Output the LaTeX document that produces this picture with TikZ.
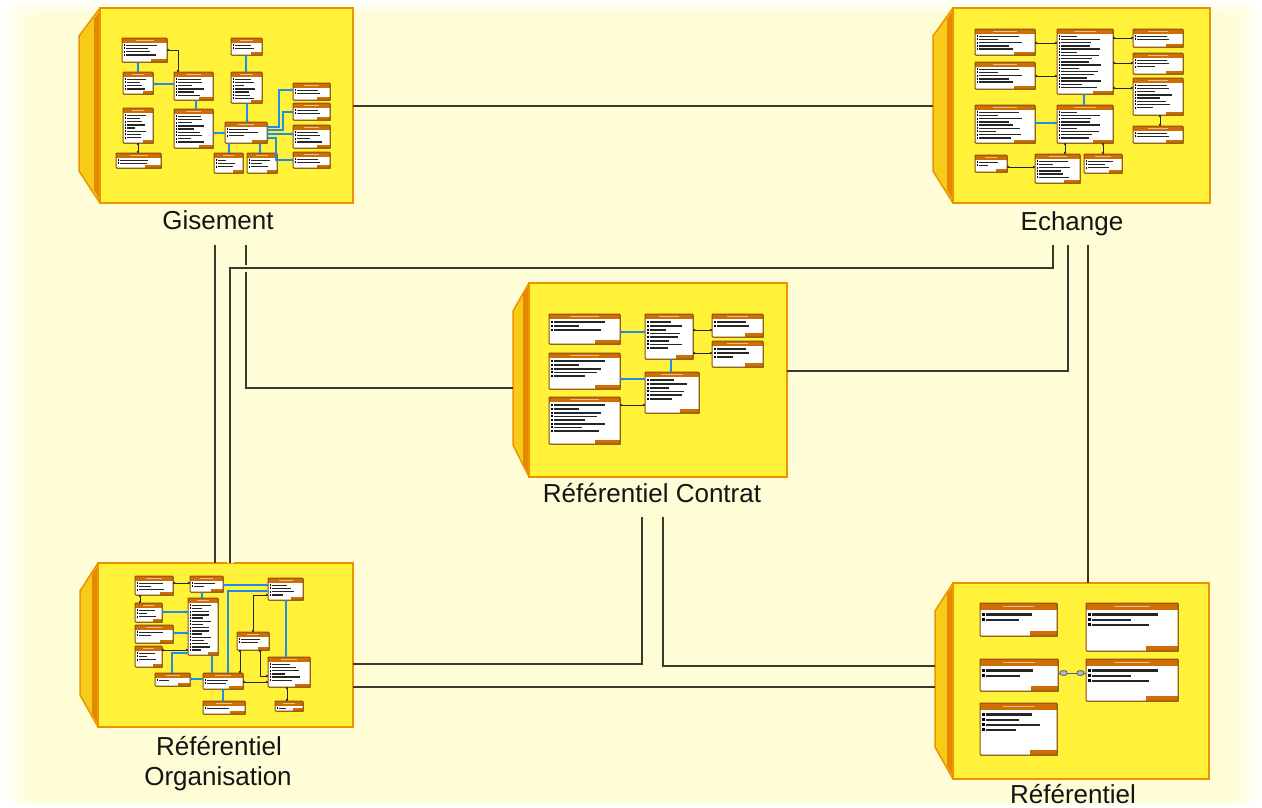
\documentclass[tikz,border=0pt]{standalone}
\usepackage{fontspec}
\setmainfont{Liberation Sans}
\usetikzlibrary{arrows.meta,shadows}

\definecolor{bgc}{RGB}{255,253,214}
\definecolor{facec}{RGB}{255,242,56}
\definecolor{edgec}{RGB}{236,148,0}
\definecolor{sidec}{RGB}{246,204,24}
\definecolor{stripec}{RGB}{228,136,0}
\definecolor{hdrc}{RGB}{206,110,4}
\definecolor{tbordc}{RGB}{140,78,6}
\definecolor{linkc}{RGB}{30,140,232}
\definecolor{connc}{RGB}{58,58,44}

\tikzset{
  conn/.style={draw=connc, line width=2pt},
  halo/.style={preaction={draw=bgc, line width=7pt}},
  pkgface/.style={fill=facec, draw=edgec, line width=2pt},
  pkgside/.style={fill=sidec, draw=edgec, line width=1.5pt, line join=round},
  pkgstripe/.style={fill=stripec},
  lbl/.style={font=\fontsize{26}{30}\selectfont, text=black!92, inner sep=0},
  tblbox/.style={fill=white, inner sep=0, outer sep=0,
    drop shadow={shadow xshift=0.9pt, shadow yshift=-0.9pt, fill=black, opacity=0.4}},
  tbord/.style={draw=tbordc, line width=1pt, rounded corners=0.8pt},
  blu/.style={draw=linkc, line width=1.2pt, {Circle[length=2.4pt]}-{Circle[length=2.4pt]}},
  blk/.style={draw=black!85, line width=1pt, {Circle[length=2.2pt]}-{Circle[length=2.2pt]}},
  refl/.style={draw=gray!70!blue, line width=1pt},
  refm/.style={fill=blue!25!gray!45, draw=black!75, line width=0.6pt, rounded corners=2pt,
    minimum width=7pt, minimum height=4.5pt, inner sep=0},
}

% table thumbnail: name, x1, y1, x2, y2, rows (0 = fill the table)
\newcommand\dbt[6]{%
  \node[tblbox, minimum width=(#4-#2)*1pt, minimum height=(#5-#3)*1pt, anchor=north west] (#1) at (#2,#3) {};
  \fill[hdrc] (#2,#3) rectangle (#4,{#3+4.5*\tsc});
  \fill[white!55!hdrc] ({(#2+#4)/2-0.2*(#4-#2)},{#3+1.6*\tsc}) rectangle ({(#2+#4)/2+0.2*(#4-#2)},{#3+2.8*\tsc});
  \ifnum#6=0\relax
    \pgfmathtruncatemacro\tbrows{max(1,(#5-#3-8.5*\tsc)/(3.2*\tsc))}%
  \else
    \def\tbrows{#6}%
  \fi
  \foreach \k in {1,...,\tbrows}{%
    \pgfmathsetmacro\rowy{#3+4.5*\tsc+(\k-0.45)*3.2*\tsc}%
    \pgfmathsetmacro\rowlen{(0.3+0.5*abs(sin(\k*71+#2*3)))*(#4-#2-6*\tsc)}%
    \fill[black] ({#2+1.5*\tsc},\rowy) rectangle ++({1.9*\tsc},{1.9*\tsc});
    \fill[black!85] ({#2+4*\tsc},{\rowy+0.25*\tsc}) rectangle ++(\rowlen,{1.5*\tsc});
  }
  \fill[hdrc] ({#4-0.35*(#4-#2)},{#5-3.2*\tsc}) rectangle (#4,#5);
  \draw[tbord] (#2,#3) rectangle (#4,#5);
}

% package: name, side left, face left, top, right, bottom
\newcommand\pkg[6]{%
  \node[inner sep=0, outer sep=0, minimum width=(#5-#2)*1pt, minimum height=(#6-#4)*1pt, anchor=north west] (#1) at (#2,#4) {};
  \filldraw[pkgside] (#3,#4) -- (#2,{#4+28}) -- (#2,{#6-32}) -- (#3,#6) -- cycle;
  \fill[pkgstripe] (#3,{#4+3}) -- ({#3-6},{#4+11}) -- ({#3-6},{#6-13}) -- (#3,{#6-3}) -- cycle;
  \filldraw[pkgface] (#3,#4) rectangle (#5,#6);
}

\begin{document}
\begin{tikzpicture}[x=1pt, y=-1pt]
\useasboundingbox (0,0) rectangle (1262,807);

% background with a soft white rim
\fill[white] (0,0) rectangle (1262,807);
\foreach \i in {1,...,24}{
  \pgfmathtruncatemacro\mixp{\i*100/24}
  \fill[bgc!\mixp!white, rounded corners=12pt] ({\i*1.3},{\i*0.6}) rectangle ({1262-\i*1.1},{807-\i*0.3});
}

% ---------- packages ----------
\pkg{gis}{79}{100}{8}{353}{203}
\pkg{ech}{933}{953}{8}{1210}{203}
\pkg{con}{513}{529}{283}{787}{477}
\pkg{org}{80}{98}{563}{353}{727}
\pkg{ref}{935}{953}{583}{1209}{779}

\node[lbl, anchor=base] (gisT) at (218,229.5) {Gisement};
\node[lbl, anchor=base] (echT) at (1072,230) {Echange};
\node[lbl, anchor=base] (conT) at (652,502) {Référentiel Contrat};
\node[lbl, anchor=base] (orgT1) at (219,755) {Référentiel};
\node[lbl, anchor=base] (orgT2) at (218,785) {Organisation};
\node[lbl, anchor=base] (refT) at (1073,803) {Référentiel};

% ---------- Gisement ----------
\def\tsc{1}
\dbt{g1}{122}{38}{167}{62}{0}
\dbt{g2}{123}{72}{153}{94}{0}
\dbt{g3}{174}{72}{213}{100}{0}
\dbt{g4}{123}{108}{153}{143}{0}
\dbt{g5}{116}{153}{161}{168}{0}
\dbt{g6}{174}{109}{213}{148}{0}
\dbt{g7}{231}{38}{262}{55}{0}
\dbt{g8}{231}{72}{262}{103}{0}
\dbt{g9}{225}{122}{267}{143}{0}
\dbt{g10}{214}{153}{243}{173}{0}
\dbt{g11}{247}{153}{277}{173}{0}
\dbt{g12}{293}{83}{330}{100}{0}
\dbt{g13}{293}{103}{330}{120}{0}
\dbt{g14}{293}{125}{330}{148}{0}
\dbt{g15}{293}{152}{330}{168}{0}
\draw[blu] (g1.south -| 138,0) -- (g2.north -| 138,0);
\draw[blu] (g2.east |- 0,84) -- (g3.west |- 0,84);
\draw[blk] (g1.east |- 0,50) -| (g3.north -| 178,0);
\draw[blu] (g3.south -| 196,0) -- (g6.north -| 196,0);
\draw[blk] (g4.south -| 138,0) -- (g5.north -| 138,0);
\draw[blu] (g7.south -| 246,0) -- (g8.north -| 246,0);
\draw[blu] (g8.south -| 247,0) -- (g9.north -| 247,0);
\draw[blu] (g6.east |- 0,133) -- (g9.west |- 0,133);
\draw[blu] (g9.south -| 229,0) -- (g10.north -| 229,0);
\draw[blu] (g9.south -| 260,0) -- (g11.north -| 260,0);
\draw[blu] (g9.east |- 0,127) -- ++(12,0) |- (g12.west |- 0,90);
\draw[blu] (g9.east |- 0,130) -- ++(16,0) |- (g13.west |- 0,112);
\draw[blu] (g9.east |- 0,134) -- (g14.west |- 0,134);
\draw[blu] (g9.east |- 0,138) -- ++(9,0) |- (g15.west |- 0,160);

% ---------- Echange ----------
\dbt{e1}{975}{29}{1035}{55}{0}
\dbt{e2}{975}{62}{1035}{89}{0}
\dbt{e3}{1057}{29}{1113}{94}{0}
\dbt{e4}{1133}{29}{1183}{47}{0}
\dbt{e5}{1133}{53}{1183}{74}{0}
\dbt{e6}{1133}{78}{1183}{115}{0}
\dbt{e7}{1133}{126}{1183}{143}{0}
\dbt{e8}{975}{105}{1035}{143}{0}
\dbt{e9}{1057}{105}{1113}{143}{0}
\dbt{e10}{975}{155}{1007}{172}{0}
\dbt{e11}{1035}{154}{1080}{183}{0}
\dbt{e12}{1084}{154}{1122}{173}{0}
\draw[blk] (e1.east |- 0,43) -- (e3.west |- 0,43);
\draw[blk] (e2.east |- 0,76) -- (e3.west |- 0,76);
\draw[blk] (e3.east |- 0,38) -- (e4.west |- 0,38);
\draw[blk] (e3.east |- 0,63) -- (e5.west |- 0,63);
\draw[blk] (e3.east |- 0,88) -- (e6.west |- 0,88);
\draw[blu] (e3.south -| 1084,0) -- (e9.north -| 1084,0);
\draw[blu] (e8.east |- 0,123) -- (e9.west |- 0,123);
\draw[blk] (e6.south -| 1160,0) -- (e7.north -| 1160,0);
\draw[blk] (e9.south -| 1065,0) -- (e11.north -| 1065,0);
\draw[blk] (e9.south -| 1103,0) -- (e12.north -| 1103,0);
\draw[blk] (e10.east |- 0,167) -- (e11.west |- 0,167);

% ---------- Référentiel Contrat ----------
\def\tsc{1.15}
\dbt{c1}{549}{314}{620}{344}{3}
\dbt{c2}{549}{353}{620}{389}{5}
\dbt{c3}{549}{397}{620}{444}{8}
\dbt{c4}{645}{314}{693}{359}{8}
\dbt{c5}{645}{372}{699}{413}{6}
\dbt{c6}{712}{314}{763}{337}{2}
\dbt{c7}{712}{341}{763}{367}{3}
\draw[blu] (c1.east |- 0,332) -- (c4.west |- 0,332);
\draw[blu] (c4.south -| 671,0) -- (c5.north -| 671,0);
\draw[blu] (c2.east |- 0,379) -- (c5.west |- 0,379);
\draw[blk] (c3.east |- 0,405) -- (c5.west |- 0,405);
\draw[blk] (c4.east |- 0,330) -- (c6.west |- 0,330);
\draw[blk] (c4.east |- 0,353) -- (c7.west |- 0,353);

% ---------- Référentiel Organisation ----------
\def\tsc{1}
\dbt{o1}{135}{576}{173}{595}{0}
\dbt{o2}{190}{576}{223}{592}{0}
\dbt{o3}{135}{603}{162}{622}{0}
\dbt{o4}{135}{625}{173}{643}{0}
\dbt{o5}{135}{646}{162}{667}{0}
\dbt{o6}{188}{598}{218}{655}{0}
\dbt{o7}{268}{578}{303}{600}{0}
\dbt{o8}{237}{632}{269}{650}{0}
\dbt{o9}{268}{657}{310}{687}{0}
\dbt{o10}{155}{673}{190}{686}{0}
\dbt{o11}{203}{673}{243}{689}{0}
\dbt{o12}{203}{701}{245}{714}{0}
\dbt{o13}{275}{701}{303}{711}{0}
\draw[blk] (o1.east |- 0,583) -- (o2.west |- 0,583);
\draw[blk] (o1.south -| 140,0) -- (o3.north -| 140,0);
\draw[blu] (o2.south -| 202,0) -- (o6.north -| 202,0);
\draw[blu] (o3.east |- 0,612) -- (o6.west |- 0,612);
\draw[blu] (o4.east |- 0,633) -- (o6.west |- 0,633);
\draw[blk] (o5.east |- 0,650) -- (o6.west |- 0,650);
\draw[blu] (o6.west |- 0,653) -| (o10.north -| 172,0);
\draw[blu] (o10.east |- 0,679) -- (o11.west |- 0,679);
\draw[blu] (o6.south -| 212,0) -- (o11.north -| 212,0);
\draw[blu] (o11.south -| 223,0) -- (o12.north -| 223,0);
\draw[blu] (o2.east |- 0,585) -- (o7.west |- 0,585);
\draw[blu] (o11.north -| 228,0) |- (o7.west |- 0,591);
\draw[blu] (o7.south -| 286,0) -- (o9.north -| 286,0);
\draw[blk] (o7.west |- 0,595) -| (o8.north -| 253,0);
\draw[blk] (o8.south -| 260,0) |- (o9.west |- 0,676);
\draw[blk] (o11.east |- 0,682) -- (o9.west |- 0,682);
\draw[blk] (o9.south -| 287,0) -- (o13.north -| 287,0);
\draw[blk] (o8.south -| 240,0) -- (o11.north -| 240,0);

% ---------- Référentiel ----------
\def\tsc{1.6}
\dbt{r1}{980}{603}{1057}{636}{2}
\dbt{r2}{1086}{603}{1178}{651}{3}
\dbt{r3}{980}{659}{1058}{691}{2}
\dbt{r4}{1086}{659}{1178}{701}{3}
\dbt{r5}{980}{703}{1057}{755}{4}
\draw[refl] (r3.east |- 0,673) -- (r4.west |- 0,673)
  node[refm, pos=0.2] (rm1) {} node[refm, pos=0.8] (rm2) {};

% ---------- dependencies between packages ----------
\coordinate (gA) at (215,245);
\coordinate (gB) at (246,245);
\coordinate (eA) at (1053,245);
\coordinate (eB) at (1068,245);
\coordinate (eC) at (1088,245);
\coordinate (cA) at (642,517);
\coordinate (cB) at (663,517);
\coordinate (mid) at (640,268);

\draw[conn] (gis.east) -- (ech.west);
\draw[conn] (gA) -- (gA |- org.north);
\draw[conn] (gB) |- ([yshift=-8pt]con.west);
\draw[conn, halo] (org.north -| 230,0) |- (mid) -| (eA);
\draw[conn] (eB) |- ([yshift=9pt]con.east);
\draw[conn] (eC) -- (eC |- ref.north);
\draw[conn] (cA) |- ([yshift=-19pt]org.east);
\draw[conn] (cB) |- ([yshift=15pt]ref.west);
\draw[conn] ([yshift=-42pt]org.east) -- ([yshift=-42pt]org.east -| ref.west);
\end{tikzpicture}
\end{document}
